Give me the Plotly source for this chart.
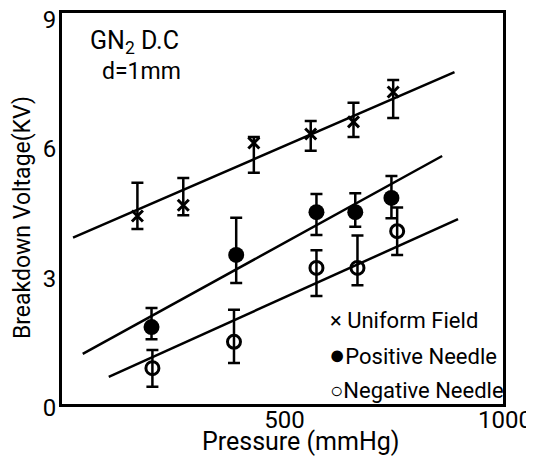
import plotly.graph_objects as go

# ---- data ----
pressure_uniform = [171, 275, 435, 564, 661, 751]
voltage_uniform = [4.35, 4.6, 6.04, 6.25, 6.53, 7.22]
err_up_uniform = [0.77, 0.63, 0.14, 0.30, 0.44, 0.28]
err_dn_uniform = [0.30, 0.23, 0.69, 0.39, 0.35, 0.60]

pressure_positive = [203, 395, 577, 665, 747]
voltage_positive = [1.78, 3.45, 4.44, 4.44, 4.77]
err_up_positive = [0.44, 0.86, 0.42, 0.44, 0.51]
err_dn_positive = [0.28, 0.65, 0.53, 0.34, 0.47]

pressure_negative = [205, 390, 577, 670, 760]
voltage_negative = [0.83, 1.44, 3.15, 3.15, 4.00]
err_up_negative = [0.42, 0.74, 0.41, 0.75, 0.55]
err_dn_negative = [0.43, 0.49, 0.65, 0.40, 0.55]

fit_uniform_x = [25, 890]
fit_uniform_y = [3.85, 7.68]
fit_positive_x = [47, 862]
fit_positive_y = [1.16, 5.74]
fit_negative_x = [106, 898]
fit_negative_y = [0.63, 4.28]

x_ticks = [500, 1000]
y_ticks = [0, 3, 6, 9]

FONT = "Roboto, Liberation Sans, sans-serif"
BLACK = "black"

fig = go.Figure()

for fx, fy in [(fit_uniform_x, fit_uniform_y), (fit_positive_x, fit_positive_y),
               (fit_negative_x, fit_negative_y)]:
    fig.add_trace(go.Scatter(x=fx, y=fy, mode="lines",
                             line=dict(color=BLACK, width=2.5), showlegend=False,
                             hoverinfo="skip"))

def err(up, dn):
    return dict(type="data", symmetric=False, array=up, arrayminus=dn,
                color=BLACK, thickness=2.5, width=6)

fig.add_trace(go.Scatter(
    x=pressure_uniform, y=voltage_uniform, mode="markers", name="Uniform Field",
    error_y=err(err_up_uniform, err_dn_uniform),
    marker=dict(symbol="x-thin", size=11, line=dict(color=BLACK, width=3), color=BLACK),
    showlegend=False))
fig.add_trace(go.Scatter(
    x=pressure_positive, y=voltage_positive, mode="markers", name="Positive Needle",
    error_y=err(err_up_positive, err_dn_positive),
    marker=dict(symbol="circle", size=16, color=BLACK, line=dict(width=0)),
    showlegend=False))
fig.add_trace(go.Scatter(
    x=pressure_negative, y=voltage_negative, mode="markers", name="Negative Needle",
    error_y=err(err_up_negative, err_dn_negative),
    marker=dict(symbol="circle-open", size=13, color=BLACK, line=dict(color=BLACK, width=3)),
    showlegend=False))

def txt(x, y, s, size, xref="x", yref="y", xanchor="left", angle=0):
    return dict(x=x, y=y, xref=xref, yref=yref, xanchor=xanchor, yanchor="middle",
                text=s, showarrow=False, textangle=angle,
                font=dict(family=FONT, size=size, color=BLACK))

annotations = [
    txt(59, 8.38, "GN<sub>2</sub> D.C", 25),
    txt(86, 7.69, "d=1mm", 23),
    txt(604, 1.94, "× Uniform Field", 22),
    txt(600, 1.13, '<span style="font-size:27px">●</span>Positive Needle', 22),
    txt(604, 0.32, "○Negative Needle", 22),
    txt(0.542, -0.097, "Pressure (mmHg)", 25, xref="paper", yref="paper", xanchor="center"),
    txt(-0.088, 0.476, "Breakdown Voltage(KV)", 23, xref="paper", yref="paper",
        xanchor="center", angle=-90),
]

# the page body keeps its default 8px margin, so the figure is 8px smaller
fig.update_layout(
    width=526, height=460,
    margin=dict(l=54, r=31, t=5, b=64),
    paper_bgcolor="white", plot_bgcolor="white",
    font=dict(family=FONT, color=BLACK, size=24),
    annotations=annotations,
    showlegend=False,
)
fig.update_xaxes(range=[0, 1000], tickvals=x_ticks, ticktext=[str(v) for v in x_ticks],
                 showgrid=False, zeroline=False, showline=True, linecolor=BLACK,
                 linewidth=3, mirror=True, ticks="", ticklen=0, automargin=False,
                 ticklabeloverflow="allow", ticklabelstandoff=-8, ticklabelshift=2,
                 tickfont=dict(family=FONT, size=24, color=BLACK))
fig.update_yaxes(range=[0, 9.05], tickvals=y_ticks, ticktext=[str(v) for v in y_ticks],
                 showgrid=False, zeroline=False, showline=True, linecolor=BLACK,
                 linewidth=3, mirror=True, ticks="", ticklen=0, automargin=False,
                 ticklabeloverflow="allow", ticklabelstandoff=-2, ticklabelshift=4,
                 tickfont=dict(family=FONT, size=24, color=BLACK))

fig.write_html("out.html")
